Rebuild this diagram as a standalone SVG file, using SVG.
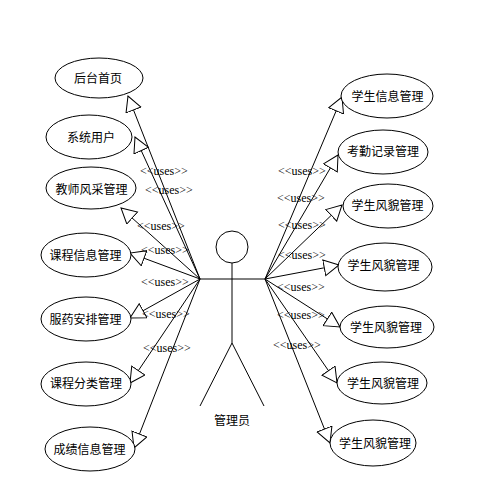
<svg xmlns="http://www.w3.org/2000/svg" width="491" height="490" viewBox="0 0 491 490">
<style>
.uc ellipse{fill:#fff;stroke:#000;stroke-width:1}
.uc text,.lbl{font-family:"Noto Sans CJK SC","Liberation Sans",sans-serif;font-size:12px;fill:#000;text-anchor:middle}
.conn line{stroke:#000;stroke-width:1;marker-end:url(#tri)}
.uses{font-family:"Liberation Serif",serif;font-size:12px;fill:#000}
.actor *{fill:none;stroke:#000;stroke-width:1}
</style>
<defs>
<marker id="tri" markerUnits="userSpaceOnUse" markerWidth="17" markerHeight="18" refX="15.5" refY="8.5" orient="auto">
<path d="M0.5,0.5 L15.5,8.5 L0.5,16.5 Z" fill="#fff" stroke="#000" stroke-width="1"/>
</marker>
</defs>
<rect width="491" height="490" fill="#fff"/>
<g id="actor" class="actor">
<circle cx="232" cy="247" r="16"/>
<line x1="232" y1="263" x2="232" y2="343"/>
<line x1="200" y1="279" x2="265" y2="279"/>
<line x1="232" y1="343" x2="200" y2="406"/>
<line x1="232" y1="343" x2="264" y2="406"/>
</g>
<text class="lbl" x="232" y="425">管理员</text>
<g id="connectors" class="conn">
<line x1="200" y1="279" x2="128" y2="96"/>
<line x1="200" y1="279" x2="135" y2="137"/>
<line x1="200" y1="279" x2="121" y2="208"/>
<line x1="200" y1="279" x2="130" y2="253"/>
<line x1="200" y1="279" x2="130" y2="318"/>
<line x1="200" y1="279" x2="130" y2="383"/>
<line x1="200" y1="279" x2="134" y2="448"/>
<line x1="265" y1="279" x2="342" y2="97"/>
<line x1="265" y1="279" x2="338" y2="155"/>
<line x1="265" y1="279" x2="342" y2="205"/>
<line x1="265" y1="279" x2="339" y2="265"/>
<line x1="265" y1="279" x2="340" y2="327"/>
<line x1="265" y1="279" x2="337" y2="383"/>
<line x1="265" y1="279" x2="330" y2="443"/>
</g>
<g id="labels" class="uses">
<text x="140" y="175">&lt;&lt;uses&gt;&gt;</text>
<text x="145" y="194">&lt;&lt;uses&gt;&gt;</text>
<text x="137" y="230">&lt;&lt;uses&gt;&gt;</text>
<text x="141" y="254">&lt;&lt;uses&gt;&gt;</text>
<text x="141" y="286">&lt;&lt;uses&gt;&gt;</text>
<text x="142" y="318">&lt;&lt;uses&gt;&gt;</text>
<text x="143" y="352">&lt;&lt;uses&gt;&gt;</text>
<text x="278" y="175">&lt;&lt;uses&gt;&gt;</text>
<text x="277" y="202">&lt;&lt;uses&gt;&gt;</text>
<text x="278" y="229">&lt;&lt;uses&gt;&gt;</text>
<text x="278" y="259">&lt;&lt;uses&gt;&gt;</text>
<text x="277" y="291">&lt;&lt;uses&gt;&gt;</text>
<text x="277" y="319">&lt;&lt;uses&gt;&gt;</text>
<text x="273" y="349">&lt;&lt;uses&gt;&gt;</text>
</g>
<g id="uc1" class="uc"><ellipse cx="99" cy="78" rx="44" ry="20"/><text x="98" y="82.5">后台首页</text></g>
<g id="uc2" class="uc"><ellipse cx="89" cy="137" rx="43" ry="22"/><text x="91" y="141.5">系统用户</text></g>
<g id="uc3" class="uc"><ellipse cx="91" cy="188" rx="45" ry="21"/><text x="91.5" y="194">教师风采管理</text></g>
<g id="uc4" class="uc"><ellipse cx="86" cy="255" rx="45" ry="22"/><text x="85.5" y="259.5">课程信息管理</text></g>
<g id="uc5" class="uc"><ellipse cx="86" cy="319" rx="45" ry="22"/><text x="85.5" y="323.5">服药安排管理</text></g>
<g id="uc6" class="uc"><ellipse cx="86" cy="384" rx="45" ry="22"/><text x="86" y="388">课程分类管理</text></g>
<g id="uc7" class="uc"><ellipse cx="90" cy="449" rx="45" ry="22"/><text x="89.5" y="453.5">成绩信息管理</text></g>
<g id="uc8" class="uc"><ellipse cx="387" cy="96" rx="46" ry="22"/><text x="387.5" y="101">学生信息管理</text></g>
<g id="uc9" class="uc"><ellipse cx="383" cy="152" rx="45" ry="22"/><text x="383" y="156">考勤记录管理</text></g>
<g id="uc10" class="uc"><ellipse cx="388" cy="206" rx="45" ry="22"/><text x="387.5" y="209.5">学生风貌管理</text></g>
<g id="uc11" class="uc"><ellipse cx="385" cy="267" rx="47" ry="24"/><text x="383.5" y="269.5">学生风貌管理</text></g>
<g id="uc12" class="uc"><ellipse cx="387" cy="327" rx="47" ry="21"/><text x="386" y="331.5">学生风貌管理</text></g>
<g id="uc13" class="uc"><ellipse cx="382" cy="383" rx="45" ry="21"/><text x="383" y="387.5">学生风貌管理</text></g>
<g id="uc14" class="uc"><ellipse cx="373" cy="443" rx="43" ry="23"/><text x="375" y="447.5">学生风貌管理</text></g>
</svg>
